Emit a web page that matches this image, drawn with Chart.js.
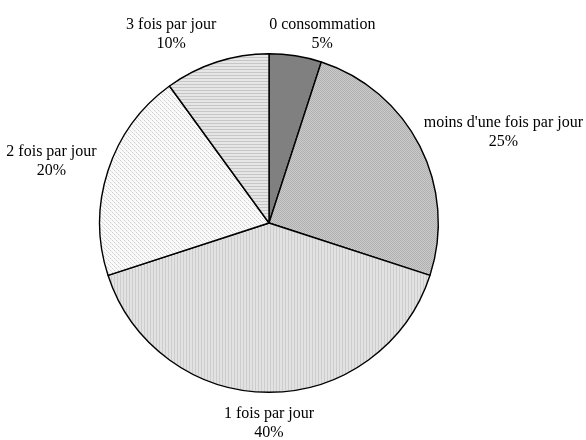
<!DOCTYPE html>
<html>
<head>
<meta charset="utf-8">
<script src="https://cdn.jsdelivr.net/npm/chart.js@4/dist/chart.umd.min.js"></script>
<style>
  html, body { margin: 0; padding: 0; background: #fff; }
  #wrap { width: 586px; height: 440px; }
</style>
</head>
<body>
<div id="wrap"><canvas id="myChart" width="586" height="440"></canvas></div>
<script>
const categories = ["0 consommation", "moins d'une fois par jour", "1 fois par jour", "2 fois par jour", "3 fois par jour"];
const percentValues = [5, 25, 40, 20, 10];
const percentLabels = ["5%", "25%", "40%", "20%", "10%"];

// small tile patterns that mimic the grey hatching of the original
function makePattern(w, h, draw) {
    const c = document.createElement("canvas");
    c.width = w; c.height = h;
    const g = c.getContext("2d");
    draw(g);
    return g.createPattern(c, "repeat");
}

const solidDark = "#808080";
const dotsMid = makePattern(2, 2, function(g){
    g.fillStyle = "#cccccc"; g.fillRect(0, 0, 2, 2);
    g.fillStyle = "#afafaf"; g.fillRect(0, 0, 1, 1); g.fillRect(1, 1, 1, 1);
});
const vertLines = makePattern(3, 1, function(g){
    g.fillStyle = "#e2e2e2"; g.fillRect(0, 0, 3, 1);
    g.fillStyle = "#cdcdcd"; g.fillRect(0, 0, 1, 1);
});
const dotsLight = makePattern(4, 4, function(g){
    g.fillStyle = "#fafafa"; g.fillRect(0, 0, 4, 4);
    g.fillStyle = "#d0d0d0";
    g.fillRect(0, 0, 1, 1); g.fillRect(2, 2, 1, 1);
    g.fillStyle = "#e4e4e4";
    g.fillRect(1, 1, 1, 1); g.fillRect(3, 3, 1, 1);
});
const horizLines = makePattern(1, 3, function(g){
    g.fillStyle = "#e6e6e6"; g.fillRect(0, 0, 1, 3);
    g.fillStyle = "#c6c6c6"; g.fillRect(0, 0, 1, 1);
});

const fonte = '16px "Liberation Serif", "Times New Roman", serif';

// labels outside the pie, placed from each arc's geometry,
// kept inside the canvas like the original
const outsideLabels = {
    id: "outsideLabels",
    afterDatasetsDraw(chart) {
        const ctx = chart.ctx;
        const meta = chart.getDatasetMeta(0);
        ctx.save();
        ctx.font = fonte;
        ctx.fillStyle = "#000";
        ctx.textAlign = "center";
        ctx.textBaseline = "middle";
        const lineH = 19;
        meta.data.forEach(function(arc, i){
            const mid = (arc.startAngle + arc.endAngle) / 2;
            const sx = Math.cos(mid), sy = Math.sin(mid);
            const r = arc.outerRadius + 12;
            const px = arc.x + r * sx;
            const py = arc.y + r * sy;
            const w = Math.max(ctx.measureText(categories[i]).width, ctx.measureText(percentLabels[i]).width);
            const halfW = w / 2, halfH = lineH;
            const kx = Math.sign(sx) * Math.min(1, Math.abs(sx) * 3);
            let cx = px + halfW * kx;
            let cy = py + halfH * sy;
            cx = Math.min(Math.max(cx, halfW + 3), chart.width - halfW - 3);
            cy = Math.max(cy, halfH + 15);
            ctx.fillText(categories[i], cx, cy - lineH / 2);
            ctx.fillText(percentLabels[i], cx, cy + lineH / 2);
        });
        ctx.restore();
    }
};

const ctx = document.getElementById("myChart").getContext("2d");
const myChart = new Chart(ctx, {
    type: "pie",
    data: {
        labels: categories,
        datasets: [{
            data: percentValues,
            backgroundColor: [solidDark, dotsMid, vertLines, dotsLight, horizLines],
            borderColor: "#000",
            borderWidth: 1.4
        }]
    },
    options: {
        responsive: false,
        animation: false,
        events: [],
        layout: { padding: { top: 53, bottom: 47, left: 0, right: 48 } },
        plugins: {
            legend: { display: false },
            tooltip: { enabled: false }
        }
    },
    plugins: [outsideLabels]
});
</script>
</body>
</html>
